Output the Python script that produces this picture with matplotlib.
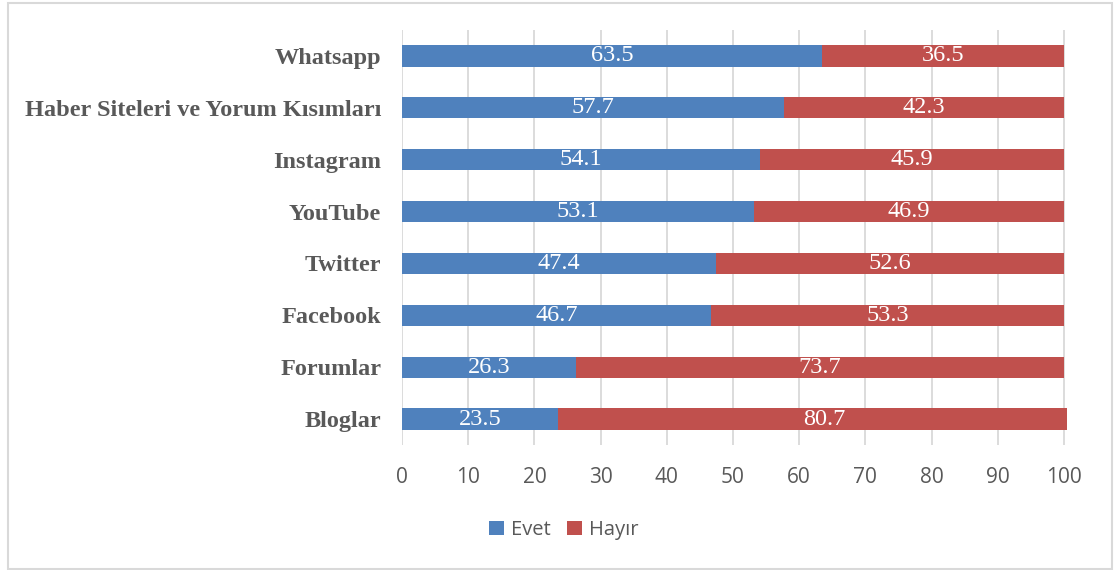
import numpy as np
import matplotlib.pyplot as plt
from matplotlib.patches import Rectangle

categories = ['Bloglar', 'Forumlar', 'Facebook', 'Twitter', 'YouTube',
              'Instagram', 'Haber Siteleri ve Yorum Kısımları', 'Whatsapp']
evet = [23.5, 26.3, 46.7, 47.4, 53.1, 54.1, 57.7, 63.5]
hayir = [80.7, 73.7, 53.3, 52.6, 46.9, 45.9, 42.3, 36.5]
xticks = [0, 10, 20, 30, 40, 50, 60, 70, 80, 90, 100]

blue = '#4F81BD'
red = '#C0504D'
grey = '#595959'

W, H = 1117, 570
fig = plt.figure(figsize=(W / 100, H / 100), dpi=100)
# plot area in pixel coords: x 402..1064 for 0..100, y 30..445
x0, x1 = 402, 1064
y0, y1 = 30, 445
ax = fig.add_axes([x0 / W, 1 - y1 / H, (x1 - x0) / W * 100.5 / 100, (y1 - y0) / H])

y = np.arange(len(categories))
h = 0.41
ax.barh(y, evet, height=h, color=blue, label='Evet', zorder=3)
ax.barh(y, hayir, left=evet, height=h, color=red, label='Hayır', zorder=3)

for i in range(len(categories)):
    ax.text(evet[i] / 2, y[i], '%.1f' % evet[i], ha='center', va='center',
            color='white', fontsize=17.5, family='Liberation Serif', zorder=4)
    ax.text(evet[i] + hayir[i] / 2, y[i], '%.1f' % hayir[i], ha='center',
            va='center', color='white', fontsize=17.5, family='Liberation Serif', zorder=4)

ax.set_xlim(0, 100.5)
ax.set_ylim(-0.5, len(categories) - 0.5)
ax.set_xticks(xticks)
ax.set_xticklabels([str(t) for t in xticks], family='Open Sans', fontsize=15, color=grey)
ax.set_yticks(y)
ax.set_yticklabels(categories, family='Liberation Serif', fontweight='bold',
                   fontsize=17.5, color=grey)
ax.tick_params(axis='both', length=0)
ax.tick_params(axis='x', pad=16)
ax.tick_params(axis='y', pad=15)
for t in xticks:
    ax.axvline(t, color='#D9D9D9', lw=1.3, zorder=1)
for s in ax.spines.values():
    s.set_visible(False)

leg = fig.legend(loc='center', bbox_to_anchor=(564 / W, 1 - 530 / H), ncol=2,
                 frameon=False, handlelength=0.75, handleheight=0.75,
                 handletextpad=0.35, columnspacing=0.8,
                 prop={'family': 'Open Sans', 'size': 14.5})
for t in leg.get_texts():
    t.set_color(grey)

fig.patches.append(Rectangle((8 / W, 1 / H), (1112 - 8) / W, (568 - 2) / H,
                             transform=fig.transFigure, fill=False,
                             edgecolor='#D9D9D9', lw=1.5))

fig.savefig('out.png', dpi=100)
